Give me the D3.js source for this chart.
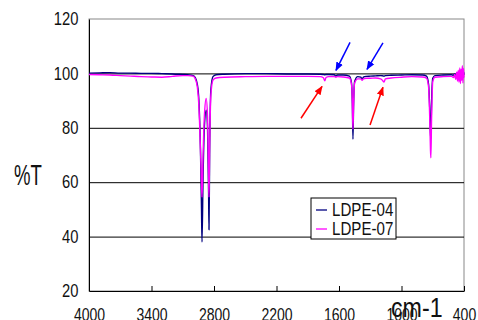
<!DOCTYPE html>
<html>
<head>
<meta charset="utf-8">
<script src="https://cdn.jsdelivr.net/npm/d3@7"></script>
<style>
  body { margin: 0; background: #fff; }
  svg { display: block; font-family: 'Liberation Sans', Arial, sans-serif; }
</style>
</head>
<body>
<svg id="chart" width="478" height="320"></svg>
<script>
// wavenumbers (cm-1), shared by both spectra
const wavenumbers = [
  4000, 3900, 3800, 3700, 3600, 3500, 3400, 3300, 3200, 3100, 3050, 3000, 2980, 2960, 2945, 2930,
  2920, 2915, 2905, 2890, 2875, 2862, 2852, 2848, 2842, 2830, 2810, 2780, 2700, 2500, 2300, 2100,
  1900, 1780, 1750, 1736, 1725, 1700, 1645, 1630, 1615, 1560, 1500, 1480, 1472, 1466, 1460, 1450,
  1420, 1390, 1378, 1366, 1340, 1300, 1250, 1200, 1180, 1168, 1155, 1100, 1000, 900, 800, 760,
  740, 730, 722, 718, 712, 700, 680, 600, 520, 500, 490, 480, 470, 462, 455, 448,
  440, 434, 428, 422, 416, 410, 405, 400
]
const ldpe04 = [
  100.1, 100.2, 100.3, 100.1, 100.1, 100.0, 100.0, 99.9, 99.8, 99.6, 99.5, 99.2, 98.5, 96, 90, 72,
  50, 38, 62, 82, 86.5, 80, 56, 42.5, 70, 94, 98.8, 99.5, 99.7, 99.9, 99.9, 99.8,
  99.8, 99.7, 99.6, 99.5, 99.6, 99.6, 99.5, 99.0, 99.4, 99.4, 99.0, 96.5, 89, 75.8, 88, 97,
  98.8, 98.6, 97.8, 98.6, 98.9, 99.0, 99.1, 99.2, 99.1, 99.0, 99.2, 99.3, 99.4, 99.5, 99.4, 99.0,
  96, 88, 78, 76, 88, 98.2, 99.2, 99.4, 99.5, 99.3, 99.8, 99.0, 100.2, 98.8, 100.5, 99.0,
  100.8, 98.6, 100.4, 99.2, 101.0, 98.5, 100.6, 99.5
]
const ldpe07 = [
  99.6, 99.5, 99.4, 99.2, 99.0, 98.8, 98.7, 98.6, 98.9, 99.2, 99.2, 99.0, 98.0, 95, 88, 72,
  60, 54.5, 70, 86, 90.8, 84, 62, 54.5, 72, 92, 97.5, 98.3, 98.6, 98.8, 98.9, 98.9,
  98.9, 98.8, 98.4, 97.3, 98.5, 98.8, 98.8, 98.6, 98.8, 98.7, 98.3, 96, 90, 79.5, 89, 96.5,
  98.0, 98.0, 97.5, 98.0, 98.2, 98.2, 98.3, 98.0, 97.3, 96.8, 98.0, 98.3, 98.6, 98.8, 98.7, 98.3,
  95, 85, 72, 69, 82, 97, 98.6, 98.8, 98.9, 98.5, 99.6, 97.8, 100.4, 97.2, 101.2, 96.8,
  102.0, 96.3, 101.5, 97.5, 102.8, 96.5, 101.8, 98.5
]
const seriesNames = ['LDPE-04', 'LDPE-07']
const seriesColors = ['#000080', '#ff00ff']
const xTicks = [4000, 3400, 2800, 2200, 1600, 1000, 400]
const yTicks = [20, 40, 60, 80, 100, 120]
// annotation arrows [from wn, from %T, to wn, to %T]
const blueArrows = [[1494, 111.4, 1629, 101.1], [1178, 111.2, 1331, 101.5]]
const redArrows = [[1965, 83.5, 1763, 95.2], [1302, 81, 1178, 94.9]]

const margin = { left: 89, right: 14, top: 19, bottom: 29 }
const svg = d3.select('#chart')
const W = +svg.attr('width') - margin.left - margin.right
const H = +svg.attr('height') - margin.top - margin.bottom
const g = svg.append('g').attr('transform', `translate(${margin.left},${margin.top})`)

const x = d3.scaleLinear().domain([4000, 400]).range([0, W])
const y = d3.scaleLinear().domain([20, 120]).range([H, 0])

// frame (top and right in grey)
g.append('rect').attr('width', W).attr('height', H).attr('fill', 'none').attr('stroke', '#888')

// y axis with gridlines
const yAxis = g.append('g').call(d3.axisLeft(y).tickValues(yTicks).tickSizeInner(-W).tickSizeOuter(0).tickPadding(13))
yAxis.select('.domain').attr('stroke', '#000')
yAxis.selectAll('.tick line').attr('stroke', d => (d === 20 || d === 120) ? 'none' : '#000')
yAxis.selectAll('.tick text').attr('font-size', 18).attr('fill', '#111').attr('transform', 'scale(0.82,1)')

// x axis, ticks pointing inwards
const xAxis = g.append('g').attr('transform', `translate(0,${H})`)
  .call(d3.axisBottom(x).tickValues(xTicks).tickFormat(d3.format('d')).tickSizeInner(-5).tickSizeOuter(0).tickPadding(17))
xAxis.select('.domain').attr('stroke', '#000')
xAxis.selectAll('.tick line').attr('stroke', '#000')
xAxis.selectAll('.tick text').attr('font-size', 18).attr('fill', '#111').attr('transform', 'scale(0.78,1)')

const line = d3.line()
  .x((d, i) => x(wavenumbers[i]))
  .y(d => y(d))
  .curve(d3.curveMonotoneX);

[ldpe04, ldpe07].forEach((vals, k) => {
  g.append('path').datum(vals)
    .attr('fill', 'none')
    .attr('stroke', seriesColors[k])
    .attr('stroke-width', 1.4)
    .attr('stroke-linejoin', 'round')
    .attr('d', line)
})

// arrows
const defs = svg.append('defs')
const addMarker = (id, color) => {
  defs.append('marker').attr('id', id)
    .attr('viewBox', '0 0 10 10').attr('refX', 9).attr('refY', 5)
    .attr('markerWidth', 6).attr('markerHeight', 6).attr('orient', 'auto')
    .append('path').attr('d', 'M0,1L10,5L0,9z').attr('fill', color)
}
addMarker('head-blue', '#0000ff')
addMarker('head-red', '#ff0000')
const drawArrows = (list, color, id) => {
  g.selectAll(null).data(list).enter().append('line')
    .attr('x1', d => x(d[0])).attr('y1', d => y(d[1]))
    .attr('x2', d => x(d[2])).attr('y2', d => y(d[3]))
    .attr('stroke', color).attr('stroke-width', 1.5)
    .attr('marker-end', `url(#${id})`)
}
drawArrows(blueArrows, '#0000ff', 'head-blue')
drawArrows(redArrows, '#ff0000', 'head-red')

// legend
const legend = svg.append('g').attr('transform', 'translate(311,198)')
legend.append('rect').attr('width', 85).attr('height', 41).attr('fill', '#fff').attr('stroke', '#000')
seriesNames.forEach((name, i) => {
  const row = legend.append('g').attr('transform', `translate(0,${12 + i * 19})`)
  row.append('line').attr('x1', 5).attr('x2', 16).attr('stroke', seriesColors[i]).attr('stroke-width', 1.3)
  row.append('text').attr('x', 25).attr('dy', '0.36em').attr('font-size', 18).attr('fill', '#111')
    .attr('transform', 'scale(0.84,1)').text(name)
})

// axis titles
svg.append('text').attr('transform', 'translate(14,185) scale(0.64,1)').attr('font-size', 29).attr('fill', '#111').text('%T')
svg.append('text').attr('transform', 'translate(391,317) scale(0.86,1)').attr('font-size', 27).attr('fill', '#111').text('cm-1')
</script>
</body>
</html>
